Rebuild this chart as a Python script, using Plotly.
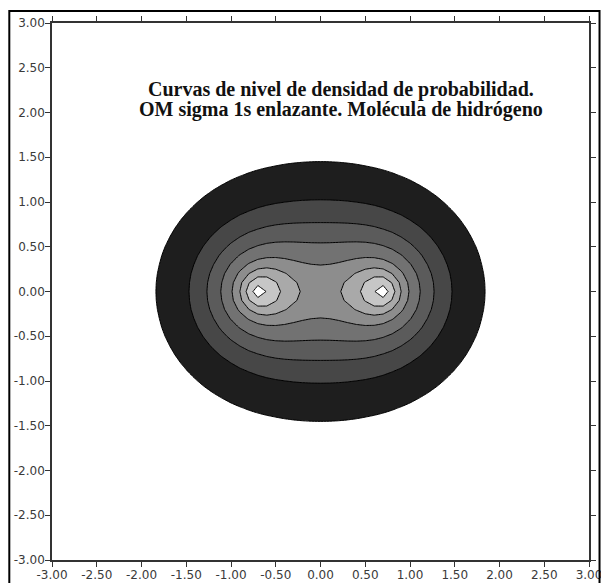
import numpy as np
import plotly.graph_objects as go

# ---- data ----
# H2 molecule, sigma 1s bonding MO: nuclei positions (bohr) along x
NUCLEI_X = [-0.7, 0.7]
ZETA = 1.0                      # 1s orbital exponent
GRID_STEP = 0.1                 # sampling grid of the original plot
AXIS_MIN, AXIS_MAX = -3.0, 3.0
# density levels (unnormalised psi^2) of the drawn contour lines, outermost first
CONTOUR_LEVELS = [0.16, 0.335, 0.50, 0.68, 0.875, 1.04, 1.20, 1.40]
TICK_VALUES = [-3.0, -2.5, -2.0, -1.5, -1.0, -0.5, 0.0, 0.5, 1.0, 1.5, 2.0, 2.5, 3.0]
TICK_LABELS = ["-3.00", "-2.50", "-2.00", "-1.50", "-1.00", "-0.50", "0.00",
               "0.50", "1.00", "1.50", "2.00", "2.50", "3.00"]
TITLE_LINES = ["Curvas de nivel de densidad de probabilidad.",
               "OM sigma 1s enlazante. Molécula de hidrógeno"]

# ---- styles ----
# fill colour of the region above each level
BAND_COLORS = ["#1e1e1e", "#474747", "#5b5b5b", "#727272", "#8d8d8d",
               "#a9a9a9", "#c6c6c6", "#ffffff"]

# density field of the LCAO orbital psi = exp(-z ra) + exp(-z rb)
n = int(round((AXIS_MAX - AXIS_MIN) / GRID_STEP)) + 1
xs = np.round(np.linspace(AXIS_MIN, AXIS_MAX, n), 10)
ys = xs.copy()
X, Y = np.meshgrid(xs, ys)
psi = sum(np.exp(-ZETA * np.sqrt((X - nx) ** 2 + Y ** 2)) for nx in NUCLEI_X)
rho = psi ** 2

fig = go.Figure()
for level, color in zip(CONTOUR_LEVELS, BAND_COLORS):
    # constraint fill shades the region violating "rho < level", i.e. rho >= level
    fig.add_trace(go.Contour(
        x=xs, y=ys, z=rho,
        contours=dict(type="constraint", operation="<", value=level, showlines=True),
        fillcolor=color,
        line=dict(color="#000000", width=1, smoothing=0),
        showscale=False,
        hoverinfo="skip",
    ))

axis_common = dict(
    range=[AXIS_MIN, AXIS_MAX], tickmode="array", tickvals=TICK_VALUES, ticktext=TICK_LABELS,
    ticks="outside", ticklen=5, tickwidth=1, tickcolor="#333333",
    showline=True, linecolor="#333333", linewidth=1.5, mirror="ticks",
    showgrid=False, zeroline=False, automargin=False,
    tickfont=dict(family="DejaVu Sans", size=12, color="#3a3a3a"),
    ticklabelstandoff=-2, ticklabeloverflow="allow",
)
fig.update_xaxes(**axis_common)
fig.update_yaxes(**axis_common)

for i, line in enumerate(TITLE_LINES):
    fig.add_annotation(x=0.228, y=[2.26, 2.03][i], xref="x", yref="y", text="<b>%s</b>" % line,
                       showarrow=False, xanchor="center", yanchor="middle",
                       font=dict(family="Liberation Serif", size=20, color="#111111"))

# outer frame of the picture
fig.add_shape(type="rect", xref="paper", yref="paper",
              x0=-0.0795, x1=1.0196, y0=-0.08, y1=1.0223,
              line=dict(color="#000000", width=2), fillcolor="rgba(0,0,0,0)", layer="above")

fig.update_layout(
    width=601, height=583,
    margin=dict(l=52, r=12, t=23, b=23),
    paper_bgcolor="#ffffff", plot_bgcolor="#ffffff",
    showlegend=False,
)

fig.write_html("out.html")
